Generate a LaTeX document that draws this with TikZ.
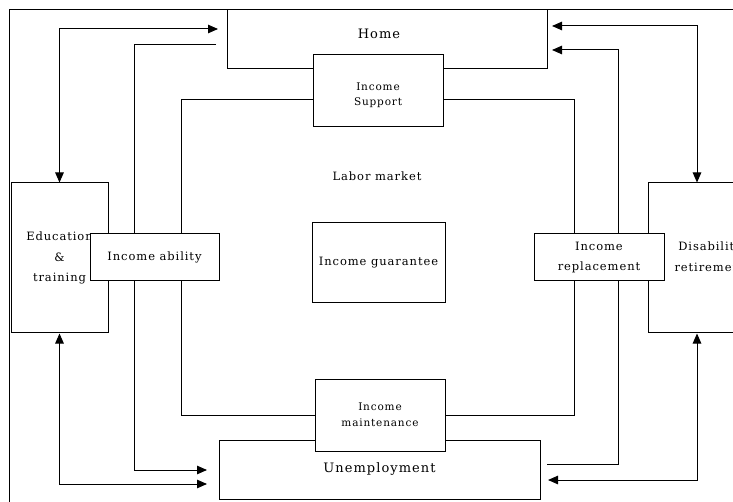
\documentclass[tikz,border=0pt]{standalone}
\usepackage{fontspec}
\setmainfont[LetterSpace=8]{DejaVu Serif}
\usetikzlibrary{arrows.meta,backgrounds}
\begin{document}
\begin{tikzpicture}[x=1pt,y=-1pt,
  box/.style={draw, fill=white, line width=1pt, inner sep=0pt, align=center},
  lbl/.style={inner sep=0pt, align=center},
  fmid/.style={font=\fontsize{11.5}{20}\selectfont},
  fbig/.style={font=\fontsize{13}{16}\selectfont},
  conn/.style={line width=1pt},
  onetip/.style={conn, -{Triangle[length=10pt,width=8.5pt]}},
  twotip/.style={conn, {Triangle[length=10pt,width=8.5pt]}-{Triangle[length=10pt,width=8.5pt]}}
]
\useasboundingbox (0,0) rectangle (733,502);

% inner labor-market frame
\node[draw, line width=1pt, inner sep=0pt, minimum width=393pt, minimum height=315pt] (labor) at (377.5,257.5) {};

% main boxes
\node[box, minimum width=320pt, minimum height=59pt] (home) at (387,39.5) {};
\node[box, fbig, minimum width=321pt, minimum height=59pt] (unemp) at (379.5,469.5) {Unemployment};
\node[box, minimum width=97pt, minimum height=150pt, font=\fontsize{11.5}{20.7}\selectfont] (edu) at (59.5,258) {Education\\\&\\training};
\node[box, minimum width=98pt, minimum height=150pt] (dis) at (697,258) {};

% income boxes
\node[box, minimum width=130pt, minimum height=72pt] (support) at (378.3,91) {};
\node[box, minimum width=130pt, minimum height=72pt, font=\fontsize{10.5}{16}\selectfont] (maint) at (380,415) {Income\\maintenance};
\node[box, fmid, minimum width=129pt, minimum height=47pt] (ability) at (154.5,257.5) {Income ability};
\node[box, minimum width=130pt, minimum height=47pt, font=\fontsize{11.5}{19.3}\selectfont] (repl) at (599,257.5) {Income\\replacement};
\node[box, fmid, minimum width=133pt, minimum height=80pt] (guar) at (378.5,262.3) {Income guarantee};

% labels
\node[lbl, fbig] (homelbl) at (379,33.5) {Home};
\node[lbl, fmid] (laborlbl) at (377,176) {Labor market};
\node[lbl, font=\fontsize{10.5}{15}\selectfont] (supportlbl) at (378,95.5) {Income\\Support};
\node[lbl, font=\fontsize{11.5}{21}\selectfont] (dislbl) at (710,257) {Disability\\retirement};

% free ends of connectors
\coordinate (h1) at (218,29);
\coordinate (h2) at (216,45);
\coordinate (h3) at (552,26);
\coordinate (h4) at (552,50);
\coordinate (u1) at (207,470);
\coordinate (u2) at (207,484);
\coordinate (u3) at (547,464);
\coordinate (u4) at (548,480);

\begin{pgfonlayer}{background}
  \draw[conn] (9.5,540) -- (9.5,9.7) -- (780,9.7);
  \draw[twotip] (edu.north) |- (h1);
  \draw[onetip] (h2) -| ([xshift=-73pt]u1) -- (u1);
  \draw[twotip] (edu.south) |- (u2);
  \draw[twotip] (dis.north) |- (h3);
  \draw[onetip] (u3) -| ([xshift=66pt]h4) -- (h4);
  \draw[twotip] (dis.south) |- (u4);
\end{pgfonlayer}
\end{tikzpicture}
\end{document}
